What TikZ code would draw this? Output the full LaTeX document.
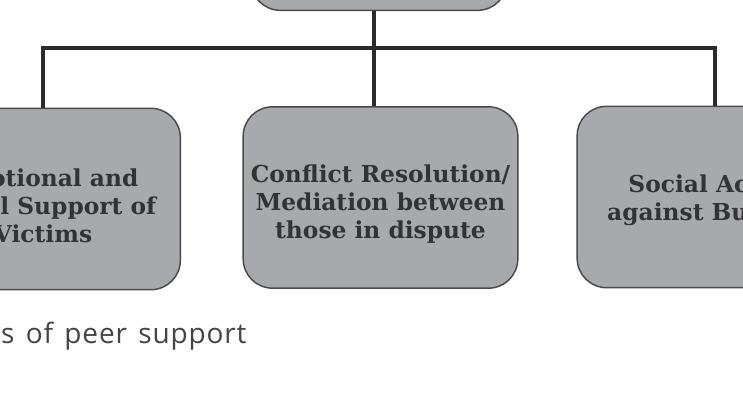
\documentclass[tikz,border=0pt]{standalone}
\usepackage{fontspec}
\setmainfont{DejaVu Serif}
\newfontfamily\capfont[LetterSpace=3,WordSpace=1.4]{Open Sans}
\definecolor{boxgrey}{HTML}{A7A9AC}
\definecolor{edgegrey}{HTML}{4A4A4A}
\definecolor{linkgrey}{HTML}{2B2B2B}
\definecolor{textgrey}{HTML}{333333}
\definecolor{capgrey}{HTML}{444444}
\tikzset{every picture/.style={line width=0.75pt}}

\begin{document}
\begin{tikzpicture}[x=0.75pt,y=0.75pt,yscale=-1,xscale=1,
	branch/.style={draw=linkgrey, line width=3pt},
	roundbox/.style={draw=edgegrey, line width=1.1pt, fill=boxgrey, rounded corners=22pt,
		minimum width=206pt, minimum height=136pt, inner sep=0pt},
	boxtext/.style={inner sep=0pt, align=center, text=textgrey,
		font=\bfseries\fontsize{17.5}{21}\selectfont}]
	%set diagram frame: 743 x 401, anything outside is cut off
	\clip (0,0) rectangle (743,401);
	
	%Rounded Rect [top]
	\node [roundbox, minimum width=192pt, minimum height=68pt] (top) at (379,-35) {};
	%Rounded Rect [left]
	\node [roundbox] (emotional) at (43,199) {};
	%Rounded Rect [middle]
	\node [roundbox] (conflict) at (380.5,197.5) {};
	%Rounded Rect [right]
	\node [roundbox] (action) at (714.5,197) {};
	
	% Text Node
	\node [boxtext] (emotional-text) at ([yshift=5pt]emotional.center) {Emotional and\\Social Support of\\Victims};
	% Text Node
	\node [boxtext] (conflict-text) at ([yshift=5pt]conflict.center) {Conflict Resolution/\\Mediation between\\those in dispute};
	% Text Node
	\node [boxtext] (action-text) at ([yshift=2.5pt]action.center) {Social Action\\against Bullying};
	
	%Straight Lines [hub]
	\coordinate (hub) at (374,48);
	\draw [branch] (top.south -| hub) -- (hub);
	\draw [branch] (hub) -| (emotional.north);
	\draw [branch] (hub) -- (hub |- conflict.north);
	\draw [branch] (hub) -| (action.north);
	
	% Text Node
	\node [anchor=base east, inner sep=0pt, text=capgrey, font=\capfont\fontsize{21}{25}\selectfont] (caption) at (247,343) {Types of peer support};
\end{tikzpicture}
\end{document}
